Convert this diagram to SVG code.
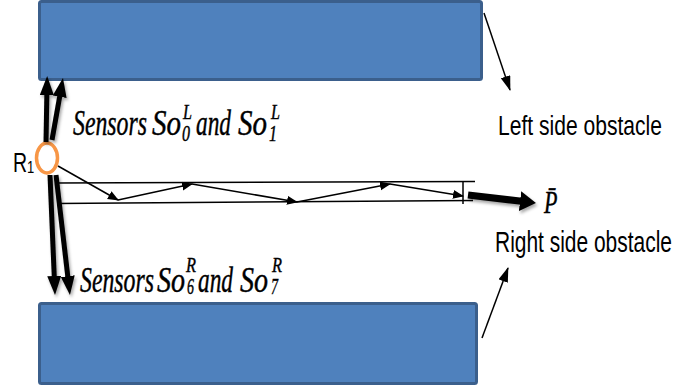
<svg xmlns="http://www.w3.org/2000/svg" width="677" height="391" viewBox="0 0 677 391">
<style>
.obst{fill:#4F81BD;stroke:#3B5F8C;stroke-width:3}
.thin{stroke:#000;stroke-width:1.5;fill:none}
.thick{stroke:#000;stroke-width:5;fill:none}
.sans{font-family:"Liberation Sans",Arial,sans-serif;fill:#000}
.ser{font-family:"Liberation Serif","Times New Roman",serif;font-style:italic;fill:#000;stroke:#000;stroke-width:0.3}
</style>
<defs>
<marker id="hThick" markerUnits="userSpaceOnUse" markerWidth="20" markerHeight="15" refX="9" refY="7" orient="auto"><path d="M0,0 L19,7 L0,14 z" fill="#000"/></marker>
<marker id="hThin" markerUnits="userSpaceOnUse" markerWidth="12" markerHeight="10" refX="10" refY="4.5" orient="auto"><path d="M0,0 L11,4.5 L0,9 z" fill="#000"/></marker>
<marker id="hObs" markerUnits="userSpaceOnUse" markerWidth="16" markerHeight="11" refX="14" refY="5" orient="auto"><path d="M0,0 L15,5 L0,10 z" fill="#000"/></marker>
<marker id="hBig" markerUnits="userSpaceOnUse" markerWidth="18" markerHeight="21" refX="6" refY="10" orient="auto"><path d="M0,0 L16,10 L0,20 z" fill="#000"/></marker>
<filter id="sh" x="-20%" y="-20%" width="140%" height="160%"><feDropShadow dx="1.5" dy="2.5" stdDeviation="1.8" flood-color="#000" flood-opacity="0.35"/></filter>
</defs>

<g id="left-obstacle"><rect class="obst" x="39.5" y="1.5" width="442" height="78" rx="2"/></g>
<g id="right-obstacle"><rect class="obst" x="39.5" y="303.5" width="437" height="80" rx="2"/></g>

<g id="robot">
<ellipse cx="47" cy="158" rx="10.5" ry="15" fill="#fff" stroke="#F79646" stroke-width="3.5"/>
<text class="sans" font-size="19.5" transform="translate(13,172) scale(1,1.43)">R</text>
<text class="sans" font-size="13" transform="translate(27,173) scale(1,1.3)">1</text>
</g>

<g id="connectors">
<g filter="url(#sh)">
<line class="thick" x1="46" y1="142" x2="47" y2="86" marker-end="url(#hThick)"/>
<line class="thick" x1="52" y1="140" x2="61.25" y2="87.8" marker-end="url(#hThick)"/>
<line class="thick" x1="50" y1="175" x2="54.6" y2="285" marker-end="url(#hThick)"/>
<line class="thick" x1="56" y1="175" x2="68.8" y2="285.1" marker-end="url(#hThick)"/>
<line x1="468" y1="195" x2="526" y2="201.8" stroke="#000" stroke-width="7" marker-end="url(#hBig)"/>
</g>
<line class="thin" x1="57" y1="183" x2="475" y2="181.5"/>
<line class="thin" x1="57" y1="203.5" x2="473" y2="200.5"/>
<line class="thin" x1="463" y1="182" x2="463" y2="204"/>
<line class="thin" x1="58" y1="166" x2="118" y2="200" marker-end="url(#hThin)"/>
<line class="thin" x1="118" y1="200" x2="192" y2="184" marker-end="url(#hThin)"/>
<line class="thin" x1="192" y1="184" x2="297" y2="202" marker-end="url(#hThin)"/>
<line class="thin" x1="297" y1="202" x2="390" y2="184" marker-end="url(#hThin)"/>
<line class="thin" x1="390" y1="184" x2="463" y2="196" marker-end="url(#hThin)"/>
<line class="thin" x1="484" y1="13" x2="510" y2="90" marker-end="url(#hObs)"/>
<line class="thin" x1="482" y1="338" x2="508" y2="268" marker-end="url(#hObs)"/>
</g>

<g id="label-top-sensors">
<text class="ser" font-size="24" textLength="74" lengthAdjust="spacingAndGlyphs" transform="translate(73,135) scale(1,1.45)">Sensors</text>
<text class="ser" font-size="24" textLength="29" lengthAdjust="spacingAndGlyphs" transform="translate(152,135) scale(1,1.45)">So</text>
<text class="ser" font-size="15" textLength="9" lengthAdjust="spacingAndGlyphs" transform="translate(183,118.5) scale(1,1.4)">L</text>
<text class="ser" font-size="16" textLength="8" lengthAdjust="spacingAndGlyphs" transform="translate(182,140.5) scale(1,1.4)">0</text>
<text class="ser" font-size="24" textLength="35" lengthAdjust="spacingAndGlyphs" transform="translate(196,135) scale(1,1.45)">and</text>
<text class="ser" font-size="24" textLength="29" lengthAdjust="spacingAndGlyphs" transform="translate(238,135) scale(1,1.45)">So</text>
<text class="ser" font-size="15" textLength="9" lengthAdjust="spacingAndGlyphs" transform="translate(271,118.5) scale(1,1.4)">L</text>
<text class="ser" font-size="16" textLength="8" lengthAdjust="spacingAndGlyphs" transform="translate(269,140.5) scale(1,1.4)">1</text>
</g>

<g id="label-bottom-sensors">
<text class="ser" font-size="24" textLength="74" lengthAdjust="spacingAndGlyphs" transform="translate(80,292) scale(1,1.45)">Sensors</text>
<text class="ser" font-size="24" textLength="28" lengthAdjust="spacingAndGlyphs" transform="translate(157,292) scale(1,1.45)">So</text>
<text class="ser" font-size="15" textLength="10" lengthAdjust="spacingAndGlyphs" transform="translate(186,272) scale(1,1.4)">R</text>
<text class="ser" font-size="16" textLength="7" lengthAdjust="spacingAndGlyphs" transform="translate(187,294) scale(1,1.4)">6</text>
<text class="ser" font-size="24" textLength="35" lengthAdjust="spacingAndGlyphs" transform="translate(198,292) scale(1,1.45)">and</text>
<text class="ser" font-size="24" textLength="28" lengthAdjust="spacingAndGlyphs" transform="translate(240,292) scale(1,1.45)">So</text>
<text class="ser" font-size="15" textLength="10" lengthAdjust="spacingAndGlyphs" transform="translate(272,272) scale(1,1.4)">R</text>
<text class="ser" font-size="16" textLength="7" lengthAdjust="spacingAndGlyphs" transform="translate(271,294) scale(1,1.4)">7</text>
</g>

<g id="label-P">
<text class="ser" font-size="22" transform="translate(544,213) scale(1,1.45)">P&#x0304;</text>
</g>

<g id="label-left-obstacle">
<text class="sans" font-size="21" textLength="164" lengthAdjust="spacingAndGlyphs" transform="translate(498,135) scale(1,1.35)">Left side obstacle</text>
</g>
<g id="label-right-obstacle">
<text class="sans" font-size="21.5" textLength="177" lengthAdjust="spacingAndGlyphs" transform="translate(495,252) scale(1,1.35)">Right side obstacle</text>
</g>
</svg>
